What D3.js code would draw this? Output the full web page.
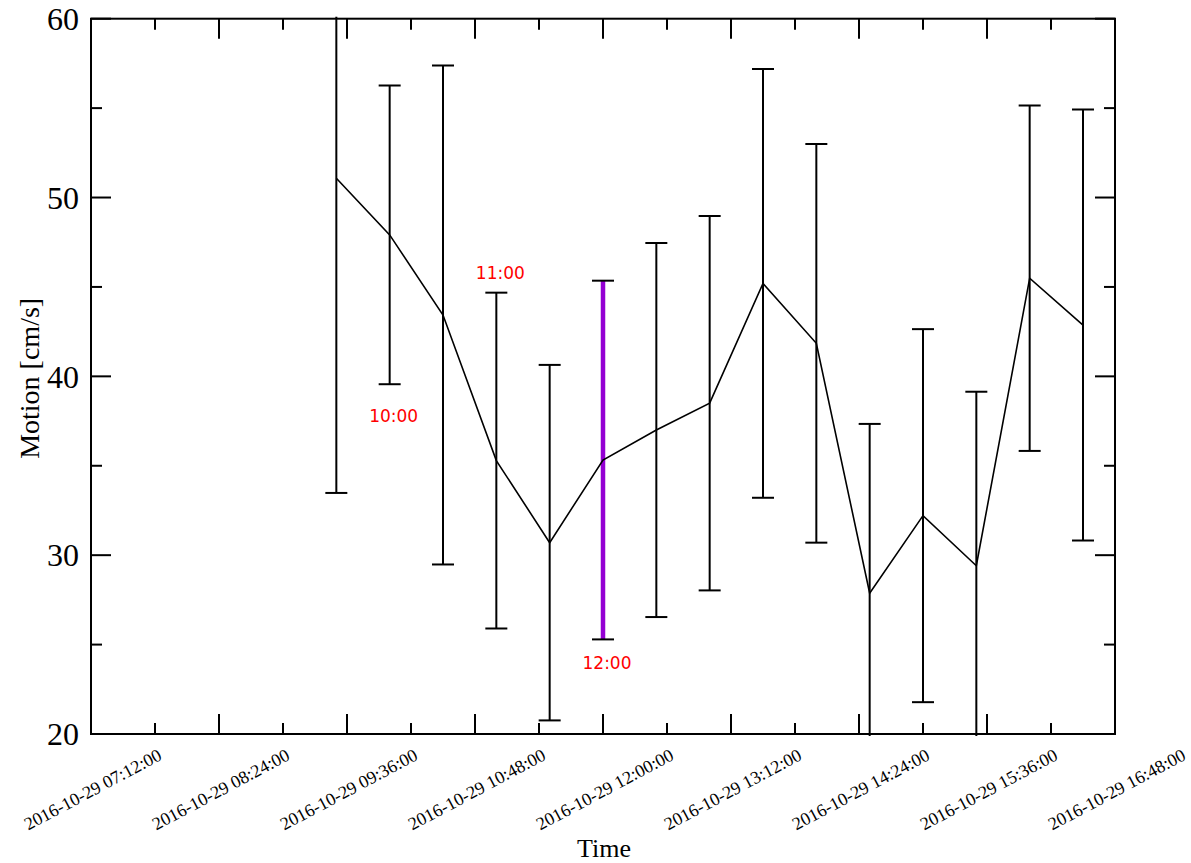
<!DOCTYPE html>
<html>
<head>
<meta charset="utf-8">
<script src="https://cdn.jsdelivr.net/npm/d3@7"></script>
<style>
  html, body { margin: 0; padding: 0; background: #fff; }
  svg { display: block; }
</style>
</head>
<body>
<svg id="chart" width="1191" height="863"></svg>
<script>
// ---- data ----
const times = ["08:54","09:24","09:54","10:24","10:54","11:24","11:54","12:24","12:54","13:24","13:54","14:24","14:54","15:24","15:54"];
const means = [51.08, 47.91, 43.43, 35.29, 30.70, 35.32, 37.00, 38.50, 45.20, 41.85, 27.87, 32.21, 29.41, 45.49, 42.87];
const errors = [17.60, 8.35, 13.95, 9.39, 9.94, 10.03, 10.46, 10.47, 11.99, 11.15, 9.47, 10.43, 9.73, 9.66, 12.05];
const highlightIndex = 5;
const labelTicks = ["07:12","08:24","09:36","10:48","12:00","13:12","14:24","15:36","16:48"];
const longTicks = ["07:48","09:00","10:12","11:24","12:36","13:48","15:00"];
const yMajor = [20, 30, 40, 50, 60];
const yMinor = [25, 35, 45, 55];
const annoText = ["10:00", "11:00", "12:00"];
const annoIndex = [1, 3, 5];
const annoValue = [37.46, 45.44, 23.63];
const xDomain = ["06:36", "16:12"];
const yDomain = [20, 60];
const dateStr = "2016-10-29";

// ---- layout ----
const L = 91, R = 1115, T = 18.7, B = 734;
const parse = d3.timeParse("%Y-%m-%d %H:%M");
const t = s => parse(dateStr + " " + s);
const fmt = d3.timeFormat("%Y-%m-%d %H:%M:%S");

const x = d3.scaleTime().domain(xDomain.map(t)).range([L, R]);
const y = d3.scaleLinear().domain(yDomain).range([B, T]);

const svg = d3.select("#chart");
const serif = "'Liberation Serif', 'Times New Roman', serif";

svg.append("defs").append("clipPath").attr("id", "clip")
  .append("rect").attr("x", L).attr("y", T - 2).attr("width", R - L).attr("height", B - T + 4);

// ticks
const tickG = svg.append("g").attr("stroke", "#000").attr("stroke-width", 2);
const labelTickTimes = labelTicks.map(t).filter(d => x(d) <= R + 0.5);
longTicks.map(t).forEach(d => {
  tickG.append("line").attr("x1", x(d)).attr("x2", x(d)).attr("y1", B).attr("y2", B - 20);
  tickG.append("line").attr("x1", x(d)).attr("x2", x(d)).attr("y1", T).attr("y2", T + 20);
});
labelTickTimes.forEach(d => {
  tickG.append("line").attr("x1", x(d)).attr("x2", x(d)).attr("y1", B).attr("y2", B - 11);
  tickG.append("line").attr("x1", x(d)).attr("x2", x(d)).attr("y1", T).attr("y2", T + 11);
});
yMajor.forEach(v => {
  tickG.append("line").attr("x1", L).attr("x2", L + 20).attr("y1", y(v)).attr("y2", y(v));
  tickG.append("line").attr("x1", R).attr("x2", R - 20).attr("y1", y(v)).attr("y2", y(v));
});
yMinor.forEach(v => {
  tickG.append("line").attr("x1", L).attr("x2", L + 11).attr("y1", y(v)).attr("y2", y(v));
  tickG.append("line").attr("x1", R).attr("x2", R - 11).attr("y1", y(v)).attr("y2", y(v));
});

// plot content
const plot = svg.append("g").attr("clip-path", "url(#clip)");
const pts = times.map((s, i) => ({ t: t(s), m: means[i], e: errors[i], i }));

// error bars
const eb = plot.append("g");
pts.forEach(p => {
  const cx = x(p.t);
  const hi = p.i === highlightIndex;
  eb.append("line").attr("x1", cx).attr("x2", cx)
    .attr("y1", y(p.m - p.e)).attr("y2", y(p.m + p.e))
    .attr("stroke", hi ? "#9400d3" : "#000").attr("stroke-width", hi ? 4.5 : 2);
  [p.m - p.e, p.m + p.e].forEach(v => {
    eb.append("line").attr("x1", cx - 11).attr("x2", cx + 11)
      .attr("y1", y(v)).attr("y2", y(v))
      .attr("stroke", "#000").attr("stroke-width", 2);
  });
});

// mean line
plot.append("path").datum(pts)
  .attr("d", d3.line().x(d => x(d.t)).y(d => y(d.m)))
  .attr("fill", "none").attr("stroke", "#000").attr("stroke-width", 1.6);

// frame
svg.append("rect").attr("x", L).attr("y", T).attr("width", R - L).attr("height", B - T)
  .attr("fill", "none").attr("stroke", "#000").attr("stroke-width", 2);

// y tick labels
svg.append("g").selectAll("text").data(yMajor).join("text")
  .attr("x", 79).attr("y", d => y(d)).attr("dy", "0.35em")
  .attr("text-anchor", "end").attr("font-family", serif).attr("font-size", 32)
  .text(d => d);

// x tick labels
svg.append("g").selectAll("text").data(labelTicks.map(t)).join("text")
  .attr("transform", d => `translate(${x(d) + 8},759) rotate(-28)`)
  .attr("text-anchor", "end").attr("font-family", serif).attr("font-size", 18)
  .text(d => fmt(d));

// axis titles
svg.append("text").attr("x", 604).attr("y", 857).attr("text-anchor", "middle")
  .attr("font-family", serif).attr("font-size", 26).text("Time");
svg.append("text").attr("transform", `translate(39,${(T + B) / 2 + 2}) rotate(-90)`)
  .attr("text-anchor", "middle").attr("font-family", serif).attr("font-size", 28)
  .text("Motion [cm/s]");

// annotations
svg.append("g").selectAll("text").data(annoText).join("text")
  .attr("x", (d, k) => x(pts[annoIndex[k]].t) + 4)
  .attr("y", (d, k) => y(annoValue[k]))
  .attr("text-anchor", "middle").attr("font-family", "'DejaVu Sans', sans-serif")
  .attr("font-size", 17).attr("fill", "#ff0000")
  .text(d => d);
</script>
</body>
</html>
